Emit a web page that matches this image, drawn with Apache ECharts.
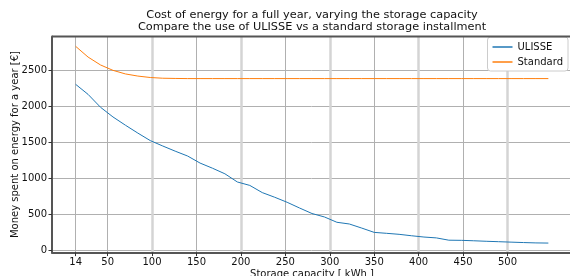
<!DOCTYPE html>
<html>
<head>
<meta charset="utf-8">
<script src="https://cdn.jsdelivr.net/npm/echarts@6/dist/echarts.min.js"></script>
<style>
  html, body { margin: 0; padding: 0; background: #fff; }
  #container { width: 570px; height: 276px; }
</style>
</head>
<body>
<div id="container"></div>
<script>
// storage capacity steps (kWh)
var capacity = [14, 28, 42, 56, 70, 84, 98, 112, 126, 140, 154, 168, 182, 196, 210, 224, 238, 252, 266, 280,
    294, 308, 322, 336, 350, 364, 378, 392, 406, 420, 434, 448, 462, 476, 490, 504, 518, 532, 546];
// yearly cost (€)
var ulisse = [2310, 2170, 1990, 1855, 1740, 1630, 1525, 1450, 1378, 1310, 1212, 1140, 1062, 948, 900, 800, 735, 665, 585, 508,
    460, 386, 362, 305, 245, 232, 218, 198, 180, 168, 136, 134, 128, 121, 115, 109, 103, 98, 96];
var standard = [2840, 2690, 2580, 2505, 2455, 2425, 2405, 2395, 2392, 2390, 2390, 2390, 2390, 2390, 2390, 2390, 2390, 2390, 2390, 2390,
    2390, 2390, 2390, 2390, 2390, 2390, 2390, 2390, 2390, 2390, 2390, 2390, 2390, 2390, 2390, 2390, 2390, 2390, 2390];
var xTicks = [14, 50, 100, 150, 200, 250, 300, 350, 400, 450, 500];
var xMajor = [100, 200, 300, 400, 500];
var yTicks = [0, 500, 1000, 1500, 2000, 2500];

var myChart = echarts.init(document.getElementById("container"));

function pairs(xs, ys) {
    var out = [];
    for (var i = 0; i < xs.length; i++) out.push([xs[i], ys[i]]);
    return out;
}

var font = 'DejaVu Sans';
var spine = '#555';
var plain = function (v) { return String(v); };

option = {
    animation: false,
    textStyle: {fontFamily: font},
    grid: {left: 52, right: -2, top: 36.5, bottom: 23.4, containLabel: false, outerBoundsMode: 'none'},
    graphic: [
        {type: 'text', x: 312, y: 15, style: {text: 'Cost of energy for a full year, varying the storage capacity', align: 'center', verticalAlign: 'middle', fontSize: 11.3, fontFamily: font, fill: '#111'}},
        {type: 'text', x: 312, y: 27.5, style: {text: 'Compare the use of ULISSE vs a standard storage installment', align: 'center', verticalAlign: 'middle', fontSize: 11.3, fontFamily: font, fill: '#111'}},
        {type: 'line', shape: {x1: 52, y1: 36.5, x2: 572, y2: 36.5}, style: {stroke: spine, lineWidth: 2}, z: 10}
    ],
    legend: {
        orient: 'vertical',
        right: 2,
        top: 37,
        data: ['ULISSE', 'Standard'],
        icon: 'rect',
        itemWidth: 20,
        itemHeight: 1.5,
        itemGap: 5,
        padding: [5, 5, 4, 5],
        backgroundColor: '#fff',
        borderColor: '#ccc',
        borderWidth: 1,
        borderRadius: 3,
        textStyle: {fontSize: 10, fontFamily: font, color: '#111'}
    },
    xAxis: [
        {
            type: 'value',
            min: -12.6,
            max: 572.6,
            name: 'Storage capacity [ kWh ]',
            nameLocation: 'middle',
            nameGap: 17,
            nameMoveOverlap: false,
            nameTextStyle: {fontSize: 10, fontFamily: font, color: '#111'},
            axisLine: {show: true, onZero: false, lineStyle: {color: spine, width: 2}},
            axisTick: {show: true, length: 3.5, customValues: xTicks, lineStyle: {color: '#333'}},
            axisLabel: {customValues: xTicks, formatter: plain, fontSize: 10, color: '#111', margin: 5},
            splitLine: {show: true, lineStyle: {color: '#b0b0b0', width: 1}}
        },
        {
            type: 'value',
            min: -12.6,
            max: 572.6,
            position: 'bottom',
            axisLine: {show: false, onZero: false},
            axisTick: {show: false, customValues: xMajor},
            axisLabel: {show: false, customValues: xMajor},
            splitLine: {show: true, lineStyle: {color: '#d4d4d4', width: 2.5}}
        }
    ],
    yAxis: {
        type: 'value',
        min: -37,
        max: 2977,
        name: 'Money spent on energy for a year [€]',
        nameLocation: 'middle',
        nameGap: 32,
        nameMoveOverlap: false,
        nameTextStyle: {fontSize: 10, fontFamily: font, color: '#111'},
        axisLine: {show: true, onZero: false, lineStyle: {color: spine, width: 2}},
        axisTick: {show: true, length: 3.5, customValues: yTicks, lineStyle: {color: '#333'}},
        axisLabel: {customValues: yTicks, formatter: plain, fontSize: 10, color: '#111', margin: 5},
        splitLine: {show: true, lineStyle: {color: '#b0b0b0', width: 1}}
    },
    series: [
        {
            name: 'ULISSE',
            type: 'line',
            xAxisIndex: 0,
            data: pairs(capacity, ulisse),
            showSymbol: false,
            color: '#1f77b4',
            lineStyle: {width: 1},
            z: 3
        },
        {
            name: 'Standard',
            type: 'line',
            xAxisIndex: 0,
            data: pairs(capacity, standard),
            showSymbol: false,
            color: '#ff7f0e',
            lineStyle: {width: 1},
            z: 3
        }
    ]
};
myChart.setOption(option);
</script>
</body>
</html>
